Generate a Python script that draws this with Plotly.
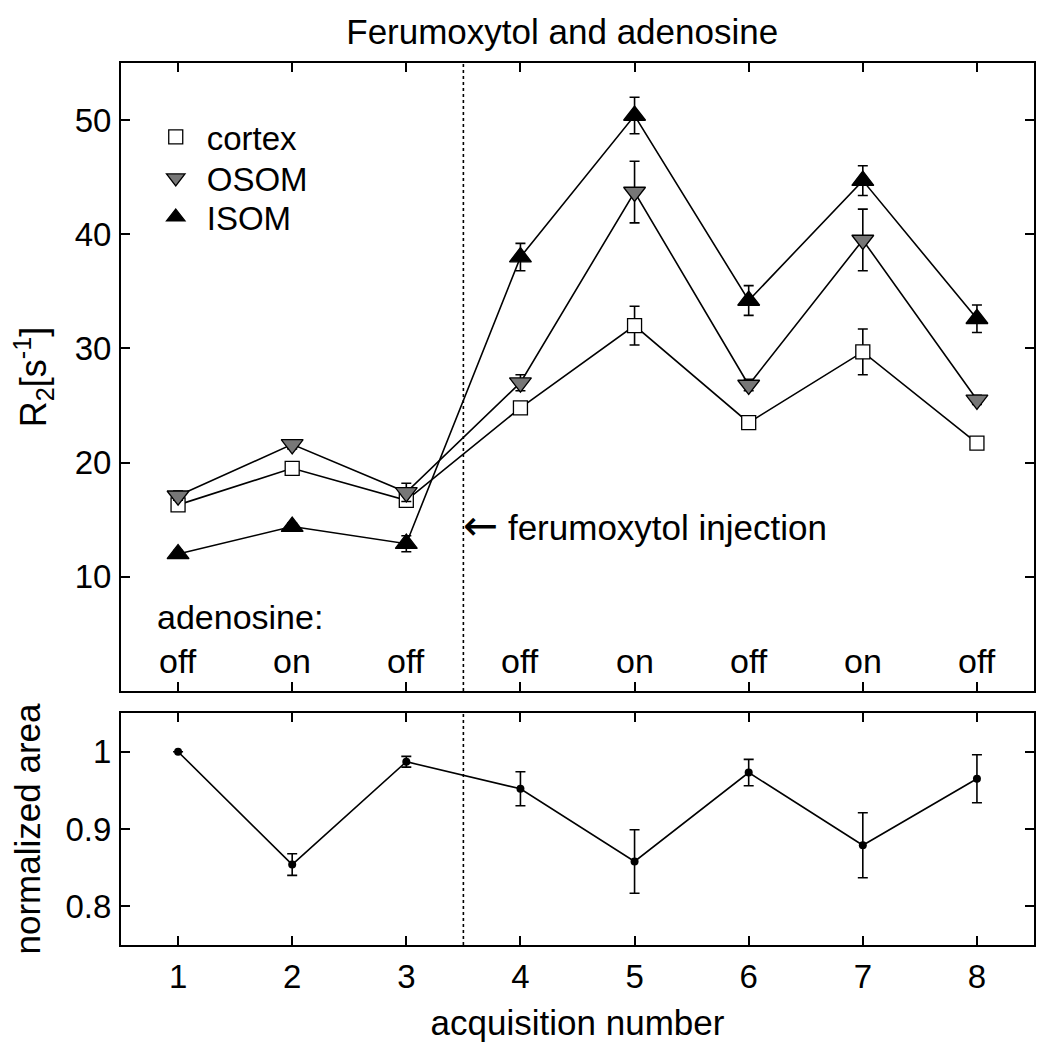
import plotly.graph_objects as go
from plotly.subplots import make_subplots

acq = [1, 2, 3, 4, 5, 6, 7, 8]
adenosine_state = ["off", "on", "off", "off", "on", "off", "on", "off"]
injection_at = 3.5

cortex = [16.3, 19.5, 16.7, 24.8, 32.0, 23.5, 29.7, 21.7]
cortex_err = [0.4, 0.4, 0.5, 0.5, 1.7, 0.4, 2.0, 0.4]
osom = [17.1, 21.6, 17.4, 27.0, 43.7, 26.8, 39.5, 25.5]
osom_err = [0.4, 0.4, 0.8, 0.7, 2.7, 0.5, 2.7, 0.4]
isom = [12.0, 14.4, 12.9, 38.0, 50.4, 34.2, 44.7, 32.6]
isom_err = [0.3, 0.3, 0.7, 1.2, 1.6, 1.3, 1.3, 1.2]

norm_area = [1.0, 0.854, 0.987, 0.952, 0.858, 0.973, 0.879, 0.965]
norm_area_err = [0.0, 0.014, 0.007, 0.022, 0.041, 0.017, 0.042, 0.031]

r2_ticks = [10, 20, 30, 40, 50]
area_ticks = [0.8, 0.9, 1.0]
area_ticktext = ["0.8", "0.9", "1"]

FONT = "Liberation Sans, Arial, sans-serif"

fig = make_subplots(rows=2, cols=1, shared_xaxes=False, vertical_spacing=0.025,
                    row_heights=[0.712, 0.263])

series = [
    ("cortex", cortex, cortex_err, "square", "white", 14, "legend"),
    ("OSOM", osom, osom_err, "triangle-down", "#777777", 19, "legend2"),
    ("ISOM", isom, isom_err, "triangle-up", "black", 19, "legend3"),
]

# connecting lines (under markers)
for name, vals, errs, sym, col, sz, lg in series:
    fig.add_trace(go.Scatter(x=acq, y=vals, mode="lines", line=dict(color="black", width=1.6),
                             showlegend=False, hoverinfo="skip"), row=1, col=1)

for name, vals, errs, sym, col, sz, lg in series:
    fig.add_trace(go.Scatter(
        x=acq, y=vals, mode="markers", name=name, legend=lg,
        marker=dict(symbol=sym, size=sz, color=col, line=dict(color="black", width=1.3)),
        error_y=dict(type="data", array=errs, visible=True, color="black", thickness=1.6, width=5),
    ), row=1, col=1)

fig.add_trace(go.Scatter(
    x=acq, y=norm_area, mode="lines+markers", showlegend=False,
    line=dict(color="black", width=1.6),
    marker=dict(symbol="circle", size=8, color="black"),
    error_y=dict(type="data", array=norm_area_err, visible=True, color="black", thickness=1.6, width=5),
), row=2, col=1)

axis_common = dict(showline=True, linecolor="black", linewidth=2, mirror="ticks",
                   ticks="inside", ticklen=9, tickwidth=1.6, tickcolor="black",
                   showgrid=False, zeroline=False, ticklabelstandoff=1, automargin=False,
                   tickfont=dict(family=FONT, size=33, color="black"))

fig.update_xaxes(**axis_common, range=[0.5, 8.5], tickvals=acq)
fig.update_xaxes(showticklabels=False, row=1, col=1)
fig.update_xaxes(title=dict(text="acquisition number", font=dict(family=FONT, size=35, color="black"),
                            standoff=18), row=2, col=1)
fig.update_yaxes(**axis_common)
fig.update_yaxes(range=[0, 55], tickvals=r2_ticks,
                 title=dict(text="R<sub>2</sub>[s<sup>-1</sup>]", font=dict(family=FONT, size=36, color="black"),
                            standoff=19), row=1, col=1)
fig.update_yaxes(range=[0.75, 1.05], tickvals=area_ticks, ticktext=area_ticktext,
                 title=dict(text="normalized area", font=dict(family=FONT, size=35, color="black"),
                            standoff=24), row=2, col=1)

for r in (1, 2):
    fig.add_vline(x=injection_at, line=dict(color="black", width=1.6, dash="dot"), row=r, col=1)

fig.add_annotation(x=injection_at, y=0.263, xref="x", yref="y domain", xanchor="left", yanchor="middle",
                   text="<span style='font-family:DejaVu Sans;font-size:42px'>\u2190</span> ferumoxytol injection",
                   showarrow=False, xshift=-2,
                   font=dict(family=FONT, size=35, color="black"))
fig.add_annotation(x=0.8, y=0.118, xref="x", yref="y domain", xanchor="left", yanchor="middle",
                   text="adenosine:", showarrow=False, font=dict(family=FONT, size=34, color="black"))
for xv, st in zip(acq, adenosine_state):
    fig.add_annotation(x=xv, y=0.048, xref="x", yref="y domain", xanchor="center", yanchor="middle",
                       text=st, showarrow=False, font=dict(family=FONT, size=34, color="black"))

leg_common = dict(x=0.026, xanchor="left", yanchor="middle", bgcolor="rgba(0,0,0,0)",
                  font=dict(family=FONT, size=33, color="black"), itemwidth=52)

fig.update_layout(
    width=1034, height=1034,
    margin=dict(l=113, r=8, t=55, b=97),
    paper_bgcolor="white", plot_bgcolor="white",
    title=dict(text="Ferumoxytol and adenosine", x=0.536, xanchor="center", y=0.9775, yanchor="middle",
               font=dict(family=FONT, size=35, color="black")),
    legend=dict(**leg_common, y=0.9161),
    legend2=dict(**leg_common, y=0.8696),
    legend3=dict(**leg_common, y=0.8254),
    showlegend=True,
)

fig.write_html("out.html")
